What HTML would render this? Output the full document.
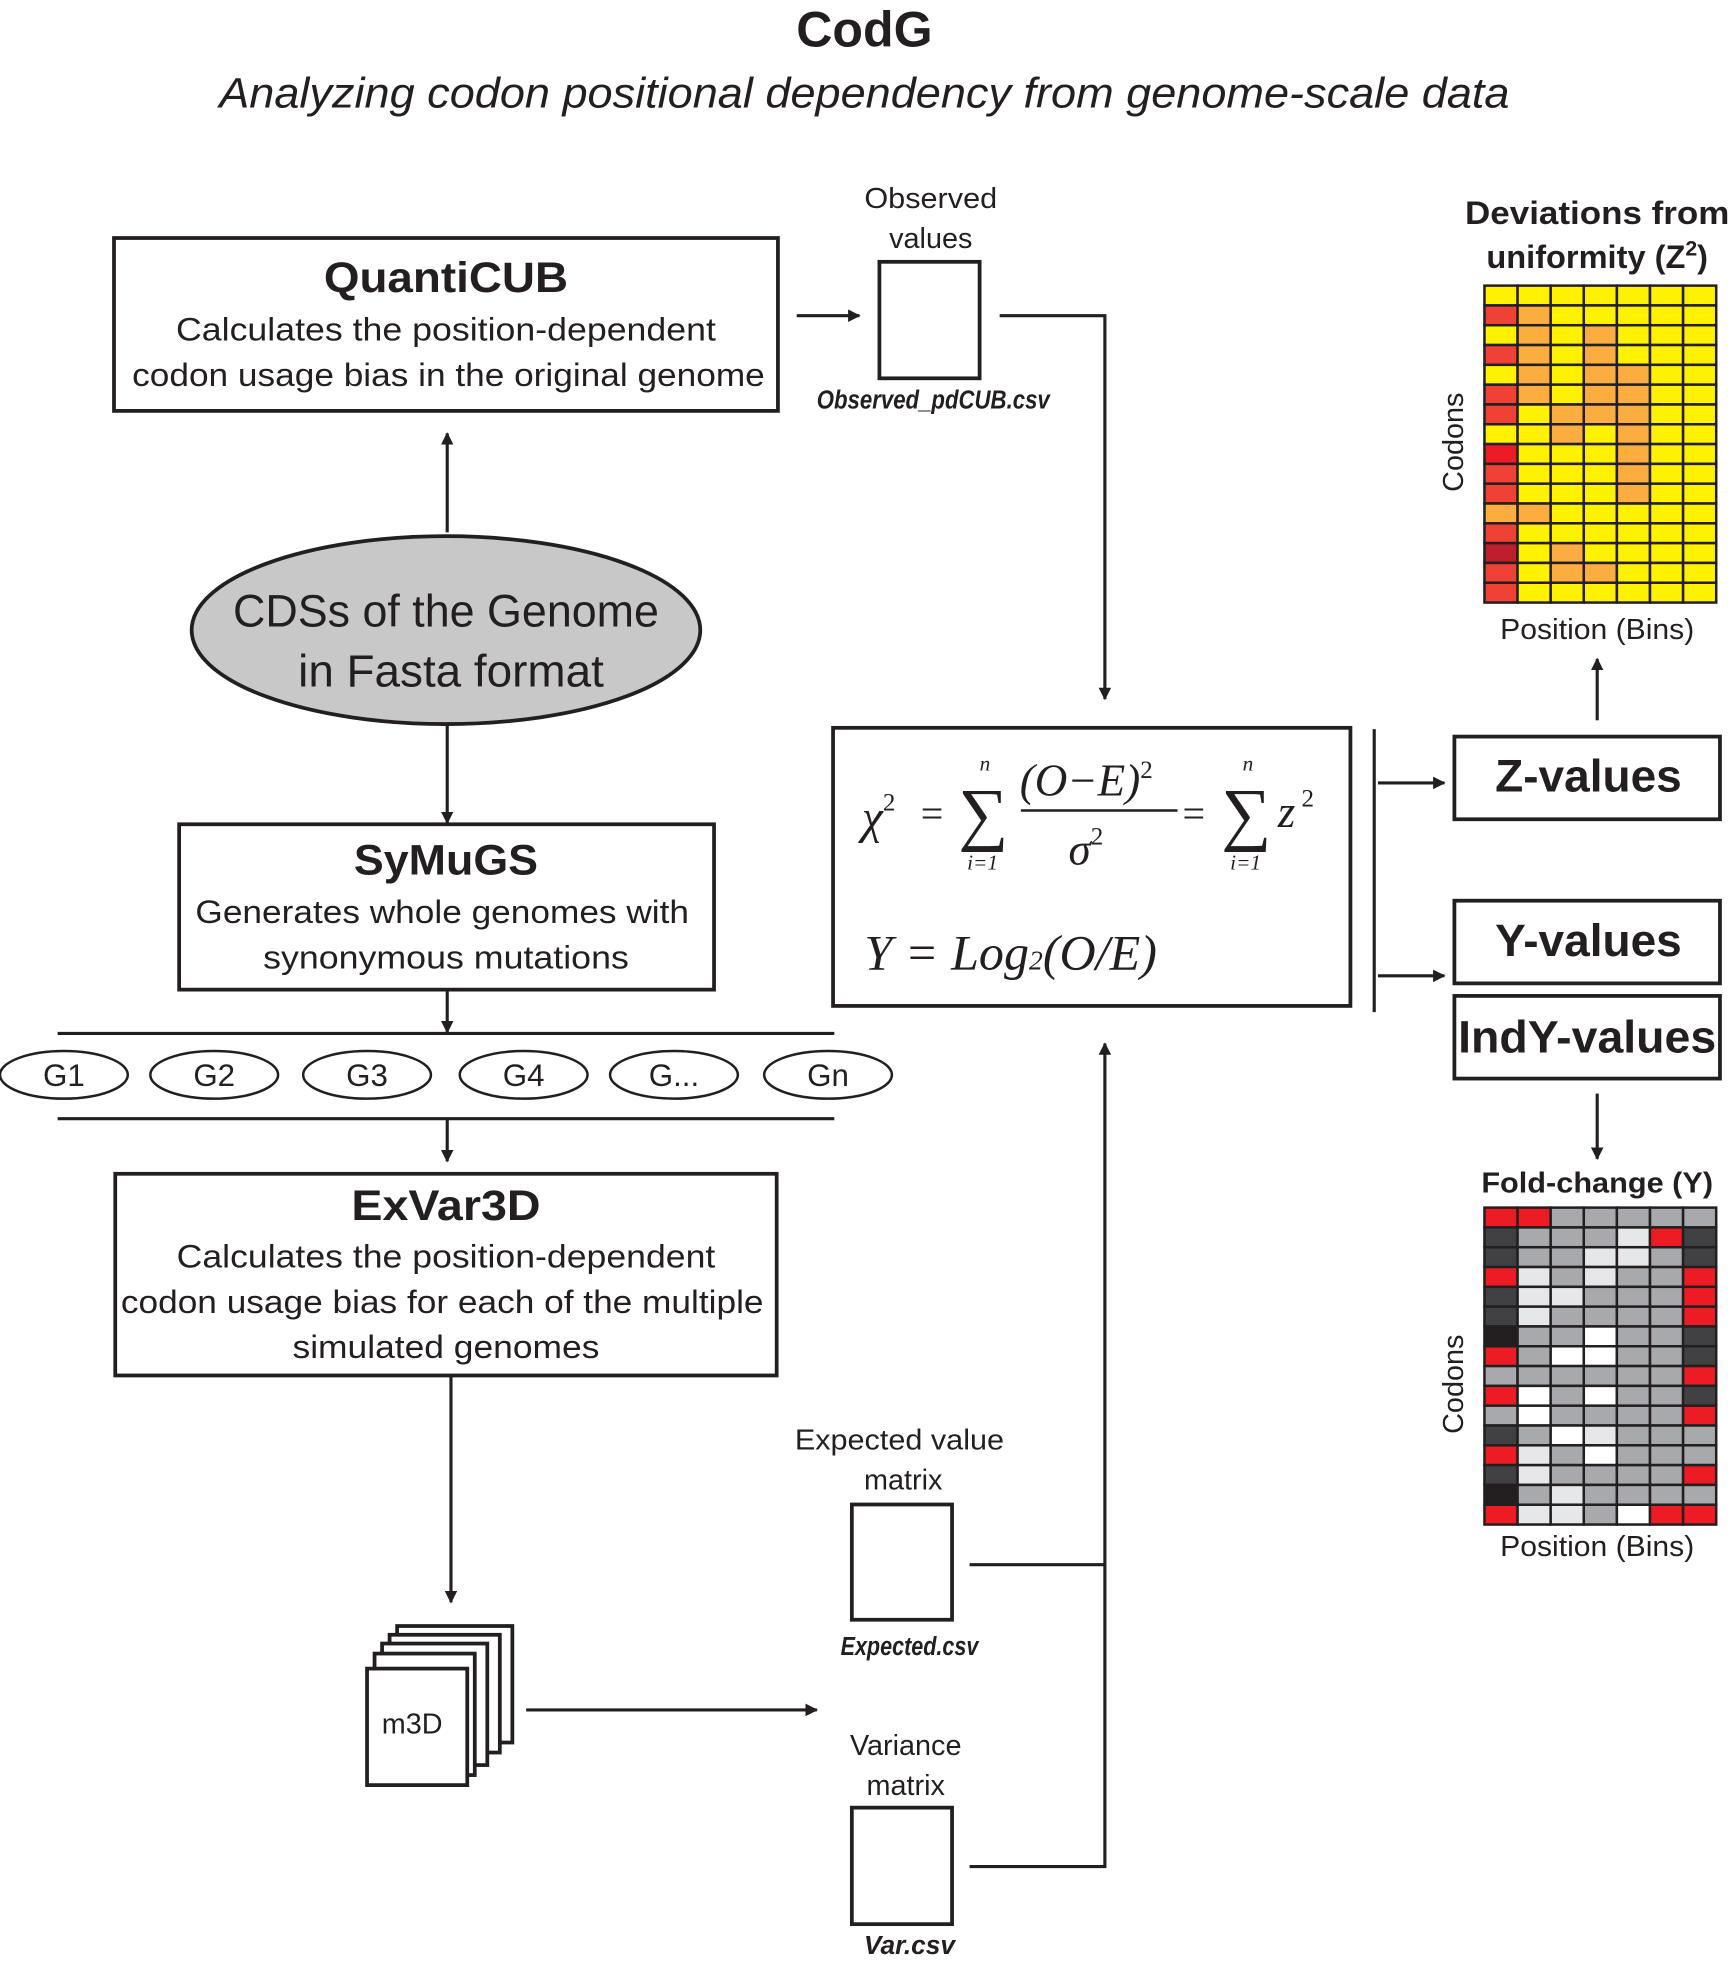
<!DOCTYPE html>
<html><head><meta charset="utf-8"><style>
html,body{margin:0;padding:0;background:#fff;}
svg{display:block;}
text{font-family:"Liberation Sans",sans-serif;fill:#231f20;}
</style></head><body>
<svg id="s" width="1735" height="1968" viewBox="0 0 1385 1571" xmlns="http://www.w3.org/2000/svg">
<defs><marker id="a" markerWidth="10" markerHeight="10" refX="9" refY="5" orient="auto" markerUnits="userSpaceOnUse"><path d="M0,0 L10,5 L0,10 Z" fill="#231f20"/></marker></defs>
<g stroke="#231f20" stroke-width="2.5" fill="none">
<line x1="636" y1="252" x2="686" y2="252" marker-end="url(#a)"/>
<polyline points="798,252 882,252 882,558" marker-end="url(#a)"/>
<line x1="357" y1="425" x2="357" y2="346" marker-end="url(#a)"/>
<line x1="357" y1="578" x2="357" y2="657" marker-end="url(#a)"/>
<line x1="357" y1="790" x2="357" y2="824" marker-end="url(#a)"/>
<line x1="46" y1="825" x2="666" y2="825"/>
<line x1="46" y1="893" x2="666" y2="893"/>
<line x1="357" y1="893" x2="357" y2="927" marker-end="url(#a)"/>
<line x1="360" y1="1098" x2="360" y2="1279" marker-end="url(#a)"/>
<line x1="420" y1="1365" x2="652" y2="1365" marker-end="url(#a)"/>
<line x1="774" y1="1249" x2="882" y2="1249"/>
<polyline points="774,1490 882,1490 882,833" marker-end="url(#a)"/>
<line x1="1097" y1="582" x2="1097" y2="808"/>
<line x1="1100" y1="625" x2="1153" y2="625" marker-end="url(#a)"/>
<line x1="1100" y1="779" x2="1153" y2="779" marker-end="url(#a)"/>
<line x1="1275" y1="575" x2="1275" y2="526" marker-end="url(#a)"/>
<line x1="1275" y1="873" x2="1275" y2="925" marker-end="url(#a)"/>
</g>
<g stroke="#231f20" stroke-width="3" fill="#fff">
<rect x="91" y="190" width="530" height="138"/>
<rect x="702" y="209" width="80" height="93"/>
<ellipse cx="356" cy="503" rx="203" ry="75" fill="#c8c8c8"/>
<rect x="143" y="658" width="427" height="132"/>
<rect x="92" y="937" width="528" height="161"/>
<rect x="680" y="1201" width="80" height="92"/>
<rect x="680" y="1443" width="80" height="93"/>
<rect x="665" y="581" width="413" height="222"/>
<rect x="1161" y="588" width="212" height="66"/>
<rect x="1161" y="719" width="212" height="66"/>
<rect x="1161" y="795" width="212" height="66"/>
<rect x="317" y="1298" width="92" height="93"/>
<rect x="311" y="1305" width="88" height="94"/>
<rect x="305" y="1312" width="84" height="97"/>
<rect x="299" y="1320" width="80" height="97"/>
<rect x="293" y="1332" width="80" height="93"/>
</g>
<g stroke="#231f20" stroke-width="2" fill="#fff">
<ellipse cx="51" cy="858" rx="51" ry="19"/><ellipse cx="171" cy="858" rx="51" ry="19"/>
<ellipse cx="293" cy="858" rx="51" ry="19"/><ellipse cx="418" cy="858" rx="51" ry="19"/>
<ellipse cx="538" cy="858" rx="51" ry="19"/><ellipse cx="661" cy="858" rx="51" ry="19"/>
</g>
<g text-anchor="middle" lengthAdjust="spacingAndGlyphs">
<text x="690" y="37" font-size="40" font-weight="bold">CodG</text>
<text x="690" y="86" font-size="34" font-style="italic" textLength="1030" lengthAdjust="spacingAndGlyphs">Analyzing codon positional dependency from genome-scale data</text>
<text x="356" y="233" font-size="34" font-weight="bold" textLength="195" lengthAdjust="spacingAndGlyphs">QuantiCUB</text>
<text x="356" y="272" font-size="26" textLength="431" lengthAdjust="spacingAndGlyphs">Calculates the position-dependent</text>
<text x="358" y="308" font-size="26" textLength="505" lengthAdjust="spacingAndGlyphs">codon usage bias in the original genome</text>
<text x="743" y="166" font-size="23" textLength="106" lengthAdjust="spacingAndGlyphs">Observed</text>
<text x="743" y="198" font-size="23">values</text>
<text x="745" y="326" font-size="21" font-weight="bold" font-style="italic" textLength="186" lengthAdjust="spacingAndGlyphs">Observed_pdCUB.csv</text>
<text x="356" y="500" font-size="36" textLength="340" lengthAdjust="spacingAndGlyphs">CDSs of the Genome</text>
<text x="360" y="548" font-size="36" textLength="244" lengthAdjust="spacingAndGlyphs">in Fasta format</text>
<text x="356" y="698" font-size="34" font-weight="bold" textLength="147" lengthAdjust="spacingAndGlyphs">SyMuGS</text>
<text x="353" y="737" font-size="26" textLength="394" lengthAdjust="spacingAndGlyphs">Generates whole genomes with</text>
<text x="356" y="773" font-size="26" textLength="292" lengthAdjust="spacingAndGlyphs">synonymous mutations</text>
<g font-size="25"><text x="51" y="867">G1</text><text x="171" y="867">G2</text><text x="293" y="867">G3</text><text x="418" y="867">G4</text><text x="538" y="867">G...</text><text x="661" y="867">Gn</text></g>
<text x="356" y="974" font-size="34" font-weight="bold" textLength="151" lengthAdjust="spacingAndGlyphs">ExVar3D</text>
<text x="356" y="1012" font-size="26" textLength="430" lengthAdjust="spacingAndGlyphs">Calculates the position-dependent</text>
<text x="353" y="1048" font-size="26" textLength="513" lengthAdjust="spacingAndGlyphs">codon usage bias for each of the multiple</text>
<text x="356" y="1084" font-size="26" textLength="245" lengthAdjust="spacingAndGlyphs">simulated genomes</text>
<text x="329" y="1384" font-size="23">m3D</text>
<text x="718" y="1157" font-size="23" textLength="167" lengthAdjust="spacingAndGlyphs">Expected value</text>
<text x="721" y="1189" font-size="23">matrix</text>
<text x="726" y="1321" font-size="21" font-weight="bold" font-style="italic" textLength="110" lengthAdjust="spacingAndGlyphs">Expected.csv</text>
<text x="723" y="1401" font-size="23">Variance</text>
<text x="723" y="1433" font-size="23">matrix</text>
<text x="726" y="1560" font-size="21" font-weight="bold" font-style="italic">Var.csv</text>
<text x="1268" y="632" font-size="36" font-weight="bold" textLength="149" lengthAdjust="spacingAndGlyphs">Z-values</text>
<text x="1268" y="763" font-size="36" font-weight="bold" textLength="149" lengthAdjust="spacingAndGlyphs">Y-values</text>
<text x="1267" y="840" font-size="36" font-weight="bold" textLength="206" lengthAdjust="spacingAndGlyphs">IndY-values</text>
<text x="1275" y="179" font-size="26" font-weight="bold" textLength="211" lengthAdjust="spacingAndGlyphs">Deviations from</text>
<text x="1275" y="214" font-size="26" font-weight="bold">uniformity (Z<tspan font-size="17" dy="-10">2</tspan><tspan dy="10">)</tspan></text>
<text x="1275" y="510" font-size="23" textLength="155" lengthAdjust="spacingAndGlyphs">Position (Bins)</text>
<text x="1275" y="952" font-size="23" font-weight="bold" textLength="185" lengthAdjust="spacingAndGlyphs">Fold-change (Y)</text>
<text x="1275" y="1242" font-size="23" textLength="155" lengthAdjust="spacingAndGlyphs">Position (Bins)</text>
<text transform="translate(1168,353) rotate(-90)" font-size="23">Codons</text>
<text transform="translate(1168,1105) rotate(-90)" font-size="23">Codons</text>
</g>
<g font-style="italic" fill="#231f20">
<text x="688" y="665" font-size="38" style="font-family:'Liberation Serif',serif">χ<tspan font-size="20" dy="-18" font-style="normal">2</tspan></text>
<text x="735" y="660" font-size="32" font-style="normal" style="font-family:'Liberation Serif',serif">=</text>
<text x="765" y="668" font-size="56" font-style="normal" style="font-family:'Liberation Serif',serif">∑</text>
<text x="782" y="615" font-size="17" style="font-family:'Liberation Serif',serif">n</text>
<text x="772" y="694" font-size="17" style="font-family:'Liberation Serif',serif">i=1</text>
<text x="814" y="635" font-size="36" style="font-family:'Liberation Serif',serif">(O−E)<tspan font-size="20" dy="-14" font-style="normal">2</tspan></text>
<line x1="815" y1="647" x2="940" y2="647" stroke="#231f20" stroke-width="2"/>
<text x="853" y="690" font-size="36" style="font-family:'Liberation Serif',serif">σ<tspan font-size="20" dy="-16" font-style="normal">2</tspan></text>
<text x="944" y="660" font-size="32" font-style="normal" style="font-family:'Liberation Serif',serif">=</text>
<text x="975" y="668" font-size="56" font-style="normal" style="font-family:'Liberation Serif',serif">∑</text>
<text x="992" y="615" font-size="17" style="font-family:'Liberation Serif',serif">n</text>
<text x="982" y="694" font-size="17" style="font-family:'Liberation Serif',serif">i=1</text>
<text x="1020" y="660" font-size="36" style="font-family:'Liberation Serif',serif">z<tspan font-size="20" dy="-16" font-style="normal"> 2</tspan></text>
<text x="690" y="774" font-size="40" style="font-family:'Liberation Serif',serif">Y = Log<tspan font-size="22">2</tspan>(O/E)</text>
</g>
<g id="h1"></g><g id="h2"></g>
</svg>
<script>
var g1=["YYYYYYY","ROYYYYY","YOYOYYY","ROYOYYY","YOYOOYY","ROYOOYY","RYOOOYY","YYOYOYY","DYYYOYY","RYYYOYY","RYYYOYY","OOYYYYY","RYYYYYY","KYOYYYY","RYOOYYY","RYYYYYY"];
var g2=["rrggggg","dggglrd","dggllgd","rlglggr","dllgggr","dlggggr","bggwggd","rgwwggd","ggggggr","rwgwggd","gwggggr","dgwlggg","rlgwggg","dlggggr","bglgggg","rllgwrr"];
var c={Y:"#fff200",O:"#fbad3f",R:"#ef4136",D:"#ed1c24",K:"#be1e2d",r:"#ed1c24",d:"#414042",b:"#231f20",g:"#a7a9ac",l:"#e6e7e8",w:"#ffffff"};
function draw(id,g,y0){var e=document.getElementById(id),s="",w=185/7,h=253/16;
for(var i=0;i<16;i++)for(var j=0;j<7;j++)s+='<rect x="'+(1185+j*w)+'" y="'+(y0+i*h)+'" width="'+w+'" height="'+h+'" fill="'+c[g[i][j]]+'" stroke="#231f20" stroke-width="2"/>';
e.innerHTML=s;}
draw("h1",g1,228);draw("h2",g2,964);
</script>
</body></html>
